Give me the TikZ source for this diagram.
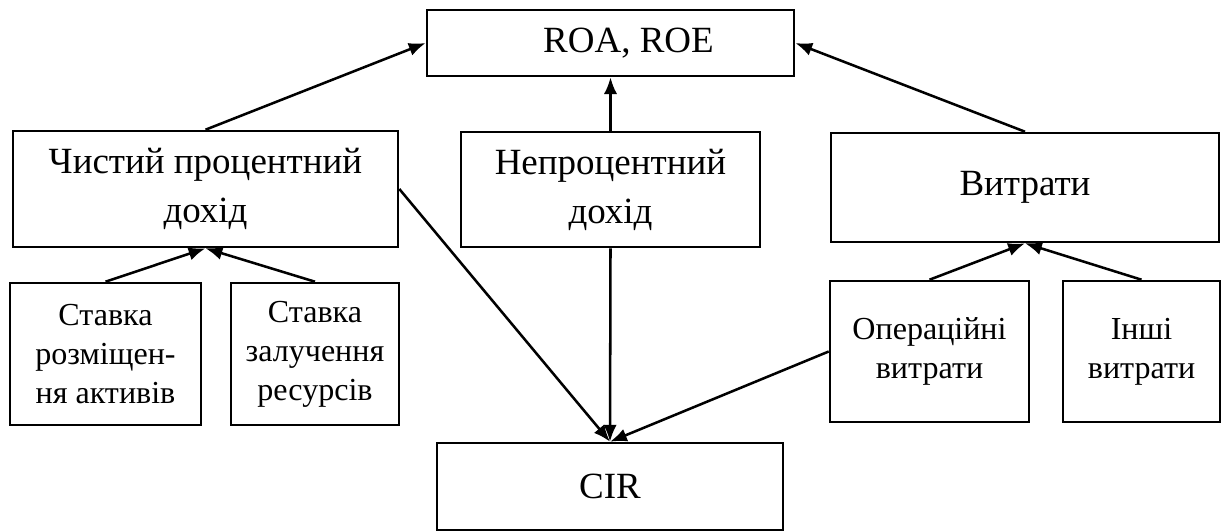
\documentclass[tikz,border=0pt]{standalone}
\usepackage{fontspec}
\setmainfont{Liberation Serif}
\usetikzlibrary{arrows.meta}

\begin{document}
\begin{tikzpicture}[
    x=0.025cm, y=-0.025cm,
    line width=1.8pt,
    big/.style={rectangle, draw, align=center, inner sep=2pt,
        font=\fontsize{26.3pt}{34.9pt}\selectfont},
    small/.style={rectangle, draw, align=center, inner sep=2pt,
        font=\fontsize{22.8pt}{27.8pt}\selectfont},
    >={Latex[length=12pt,width=9.5pt]}
]
\useasboundingbox (0,0) rectangle (1221,531);

% Верхній рівень
\node[big, minimum width=9.175cm, minimum height=1.65cm] at (610.5,43) (roa) {\hspace*{0.9cm}ROA, ROE};

% Середній рівень
\node[big, minimum width=9.625cm, minimum height=2.9cm] at (205.5,189) (net_int) {Чистий процентний\\дохід};
\node[big, minimum width=7.475cm, minimum height=2.875cm] at (610.5,189.5) (non_int) {Непроцентний\\дохід};
\node[big, minimum width=9.7cm, minimum height=2.725cm] at (1025,187.5) (costs) {Витрати};

% Складові
\node[small, minimum width=4.775cm, minimum height=3.55cm] at (105.5,354) (rate_assets) {Ставка\\розміщен-\\ня активів};
\node[small, minimum width=4.2cm, minimum height=3.55cm] at (315,354) (rate_funds) {Ставка\\залучення\\ресурсів};
\node[small, minimum width=4.975cm, minimum height=3.525cm] at (929.5,351.5) (op_costs) {Операційні\\витрати};
\node[small, minimum width=3.925cm, minimum height=3.525cm] at (1141.5,351.5) (other_costs) {Інші\\витрати};

% Нижній рівень
\node[big, minimum width=8.65cm, minimum height=2.175cm] at (610,486.5) (cir) {CIR};

% Зв'язки до ROA, ROE
\draw[->] (net_int.north) -- (roa.west);
\draw[->] (non_int.north) -- (roa.south);
\draw[->] (costs.north) -- (roa.east);
% Складові доходу та витрат
\draw[->] (rate_assets.north) -- (net_int.south);
\draw[->] (rate_funds.north) -- (net_int.south);
\draw[->] (op_costs.north) -- (costs.south);
\draw[->] (other_costs.north) -- (costs.south);
% Зв'язки до CIR
\draw[->] (net_int.east) -- (cir.north);
\draw[->] (non_int.south) -- (cir.north);
\draw[->] (op_costs.west) -- (cir.north);
\end{tikzpicture}
\end{document}
